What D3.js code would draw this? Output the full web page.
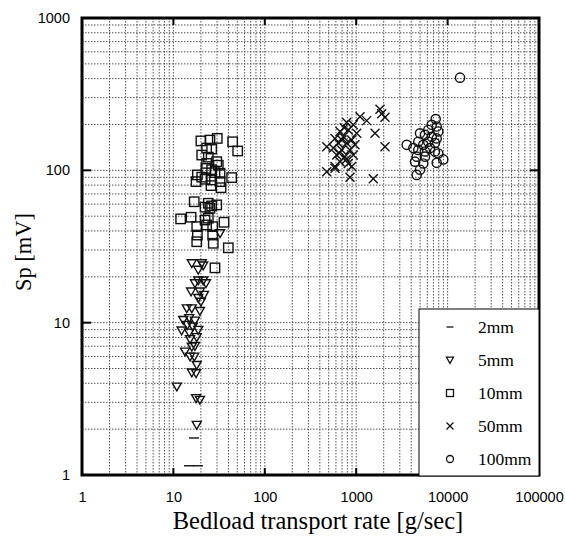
<!DOCTYPE html>
<html>
<head>
<meta charset="utf-8">
<script src="https://cdn.jsdelivr.net/npm/d3@7"></script>
<style>
body { margin: 0; background: #fff; }
</style>
</head>
<body>
<script>
var w = 565;
var h = 537;

// bedload transport rate [g/sec], Sp [mV]
var mm2X = [16.8, 14.8, 18.6];
var mm2Y = [1.75, 1.15, 1.15];

var mm5X = [32.4, 15.9, 20.4, 21.2, 18.7, 18.7, 21.2, 22.7, 17.2, 15.6, 19.5, 21.6, 18.7, 20.0,
    14.0, 15.9, 19.5, 12.8, 14.9, 17.2, 14.2, 16.3, 18.7, 12.3, 14.9, 18.0, 15.2, 15.9, 17.2,
    13.4, 15.2, 16.9, 18.0, 15.9, 17.7, 10.9, 17.7, 19.5, 18.0];
var mm5Y = [38.6, 24.5, 24.5, 23.7, 22.2, 18.9, 18.9, 18.1, 18.1, 16.0, 16.0, 15.2, 14.5, 13.7,
    12.4, 12.4, 11.9, 10.4, 10.7, 10.3, 9.66, 9.41, 8.95, 8.86, 8.59, 8.02, 7.78, 6.95, 7.03,
    6.45, 5.98, 5.98, 5.27, 4.70, 4.65, 3.80, 3.19, 3.11, 2.13];

var mm10X = [20.0, 25.1, 30.2, 44.5, 50.5, 23.1, 26.2, 20.4, 24.1, 29.8, 31.0, 23.1, 22.7, 26.2,
    28.5, 32.4, 18.3, 20.4, 17.7, 22.2, 26.2, 32.4, 43.4, 25.8, 33.2, 16.9, 24.1, 22.2, 26.2,
    29.8, 25.1, 12.0, 15.6, 22.2, 24.1, 35.8, 23.1, 18.0, 26.9, 18.3, 26.9, 18.0, 27.3, 39.9, 28.5];
var mm10Y = [156, 158, 162, 154, 134, 140, 138, 126, 122, 114, 108, 111, 103, 101,
    96.6, 95.7, 93.3, 90.2, 84.3, 87.4, 86.5, 84.3, 89.6, 79.4, 76.9, 62.2, 60.8, 57.3, 58.4,
    59.3, 56.4, 48.0, 49.2, 47.2, 48.5, 45.6, 43.8, 42.7, 42.7, 37.6, 37.6, 34.0, 33.2, 31.0, 22.9];

var mm50X = [1821, 2066, 1901, 1101, 1303, 787, 929, 1607, 2066, 476, 665, 820, 1012, 586, 722,
    893, 637, 787, 970, 562, 694, 855, 612, 754, 929, 665, 820, 586, 893, 476, 586, 855, 1538,
    699, 740, 650, 780];
var mm50Y = [252, 223, 235, 225, 212, 206, 199, 175, 143, 143, 180, 184, 175, 162, 166,
    158, 151, 151, 147, 140, 136, 136, 126, 123, 126, 114, 111, 106, 106, 98, 103, 90.2, 87.9,
    158, 190, 130, 118];

var mm100X = [13680, 7410, 6700, 7600, 6150, 7910, 4990, 5660, 6700, 7600, 4780, 6150, 7280, 5420,
    6420, 3570, 4220, 4780, 5660, 7280, 4590, 5660, 7910, 8970, 7600, 4400, 5420, 4990, 4590];
var mm100Y = [406, 217, 199, 194, 184, 180, 175, 171, 166, 162, 154, 154, 151, 147,
    140, 147, 140, 136, 133, 133, 123, 123, 129, 118, 112, 114, 111, 101, 93.3];

var xTicks = [1, 10, 100, 1000, 10000, 100000];
var yTicks = [1, 10, 100, 1000];
var seriesNames = ["2mm", "5mm", "10mm", "50mm", "100mm"];

var pLeft = 82, pTop = 18, pRight = 539, pBottom = 475;
var ink = "#111";

var svg = d3.select("body")
    .append("svg")
    .attr("width", w)
    .attr("height", h);

var x = d3.scaleLog().domain([1, 100000]).range([pLeft, pRight]);
var y = d3.scaleLog().domain([1, 1000]).range([pBottom, pTop]);

// dotted grid on every 1..9 of each decade
var gx = [], gy = [];
for (var e = 0; e < 5; e++) {
    for (var k = 1; k < 10; k++) gx.push(k * Math.pow(10, e));
}
for (var e2 = 0; e2 < 3; e2++) {
    for (var k2 = 1; k2 < 10; k2++) gy.push(k2 * Math.pow(10, e2));
}

svg.append("g").selectAll("line")
    .data(gx.filter(function (d) { return d > 1; }))
    .enter()
    .append("line")
    .attr("x1", function (d) { return x(d); })
    .attr("x2", function (d) { return x(d); })
    .attr("y1", pTop)
    .attr("y2", pBottom)
    .attr("stroke", "#555")
    .attr("stroke-width", 1)
    .attr("stroke-dasharray", "1.5,1.5");

svg.append("g").selectAll("line")
    .data(gy.filter(function (d) { return d > 1; }))
    .enter()
    .append("line")
    .attr("x1", pLeft)
    .attr("x2", pRight)
    .attr("y1", function (d) { return y(d); })
    .attr("y2", function (d) { return y(d); })
    .attr("stroke", "#555")
    .attr("stroke-width", 1)
    .attr("stroke-dasharray", "1.5,1.5");

// axes labels only, ticks drawn inward below
var xAxis = d3.axisBottom(x).tickValues(xTicks).tickFormat(d3.format("d")).tickSize(0).tickPadding(17);
var yAxis = d3.axisLeft(y).tickValues(yTicks).tickFormat(d3.format("d")).tickSize(0).tickPadding(12);

var gxa = svg.append("g").attr("transform", "translate(0," + pBottom + ")").call(xAxis);
var gya = svg.append("g").attr("transform", "translate(" + pLeft + ",0)").call(yAxis);
[gxa, gya].forEach(function (g) {
    g.select(".domain").remove();
    g.selectAll("text")
        .attr("font-family", "Liberation Sans, Arial, sans-serif")
        .attr("font-size", 14.5)
        .attr("fill", "#000");
});

svg.append("g").selectAll("line")
    .data(xTicks.slice(1, -1))
    .enter()
    .append("line")
    .attr("x1", function (d) { return x(d); })
    .attr("x2", function (d) { return x(d); })
    .attr("y1", pBottom)
    .attr("y2", pBottom - 7)
    .attr("stroke", "#000")
    .attr("stroke-width", 2);

svg.append("g").selectAll("line")
    .data(xTicks.slice(1, -1))
    .enter()
    .append("line")
    .attr("x1", function (d) { return x(d); })
    .attr("x2", function (d) { return x(d); })
    .attr("y1", pTop)
    .attr("y2", pTop + 7)
    .attr("stroke", "#000")
    .attr("stroke-width", 2);

svg.append("g").selectAll("line")
    .data(yTicks.slice(1, -1))
    .enter()
    .append("line")
    .attr("x1", pLeft)
    .attr("x2", pLeft + 9)
    .attr("y1", function (d) { return y(d); })
    .attr("y2", function (d) { return y(d); })
    .attr("stroke", "#000")
    .attr("stroke-width", 2);

svg.append("g").selectAll("line")
    .data(yTicks.slice(1, -1))
    .enter()
    .append("line")
    .attr("x1", pRight)
    .attr("x2", pRight - 9)
    .attr("y1", function (d) { return y(d); })
    .attr("y2", function (d) { return y(d); })
    .attr("stroke", "#000")
    .attr("stroke-width", 2);

svg.append("rect")
    .attr("x", pLeft)
    .attr("y", pTop)
    .attr("width", pRight - pLeft)
    .attr("height", pBottom - pTop)
    .attr("fill", "none")
    .attr("stroke", "#000")
    .attr("stroke-width", 3);

// marker drawing
function marker(g, kind, s) {
    if (kind === "2mm") {
        g.append("line").attr("x1", -s).attr("x2", s).attr("y1", 0).attr("y2", 0);
    } else if (kind === "5mm") {
        g.append("path").attr("d", "M" + (-s) + "," + (-s * 0.8) + "L" + s + "," + (-s * 0.8) + "L0," + (s * 0.95) + "Z");
    } else if (kind === "10mm") {
        g.append("rect").attr("x", -s).attr("y", -s).attr("width", 2 * s).attr("height", 2 * s);
    } else if (kind === "50mm") {
        g.append("path").attr("d", "M" + (-s) + "," + (-s) + "L" + s + "," + s + "M" + (-s) + "," + s + "L" + s + "," + (-s));
    } else {
        g.append("circle").attr("r", s);
    }
}

var series = [
    {name: "2mm", xs: mm2X, ys: mm2Y, s: 5},
    {name: "5mm", xs: mm5X, ys: mm5Y, s: 4.5},
    {name: "10mm", xs: mm10X, ys: mm10Y, s: 4.7},
    {name: "50mm", xs: mm50X, ys: mm50Y, s: 4.5},
    {name: "100mm", xs: mm100X, ys: mm100Y, s: 4.6}
];

series.forEach(function (sr) {
    var pts = sr.xs.map(function (v, i) { return [v, sr.ys[i]]; });
    svg.append("g")
        .attr("fill", "none")
        .attr("stroke", ink)
        .attr("stroke-width", 1.4)
        .selectAll("g")
        .data(pts)
        .enter()
        .append("g")
        .attr("transform", function (d) { return "translate(" + x(d[0]) + "," + y(d[1]) + ")"; })
        .each(function () { marker(d3.select(this), sr.name, sr.s); });
});

// legend
var lg = svg.append("g");
lg.append("rect")
    .attr("x", 419)
    .attr("y", 309)
    .attr("width", 120)
    .attr("height", 167)
    .attr("fill", "#fff")
    .attr("stroke", "#000")
    .attr("stroke-width", 1);

var rows = lg.selectAll("g.row")
    .data(seriesNames)
    .enter()
    .append("g")
    .attr("class", "row")
    .attr("transform", function (d, i) { return "translate(450," + (327 + i * 33) + ")"; });

rows.append("g")
    .attr("fill", "none")
    .attr("stroke", ink)
    .attr("stroke-width", 1.3)
    .each(function (d) { marker(d3.select(this), d, 3.5); });

rows.append("text")
    .attr("x", 28)
    .attr("dy", "0.35em")
    .attr("font-family", "Liberation Serif, Times New Roman, serif")
    .attr("font-size", 17.5)
    .text(function (d) { return d; });

svg.append("text")
    .attr("x", 318)
    .attr("y", 529)
    .attr("text-anchor", "middle")
    .attr("font-family", "Liberation Serif, Times New Roman, serif")
    .attr("font-size", 24.5)
    .text("Bedload transport rate [g/sec]");

svg.append("text")
    .attr("transform", "translate(31,252) rotate(-90)")
    .attr("text-anchor", "middle")
    .attr("font-family", "Liberation Serif, Times New Roman, serif")
    .attr("font-size", 22.5)
    .text("Sp [mV]");
</script>
</body>
</html>
